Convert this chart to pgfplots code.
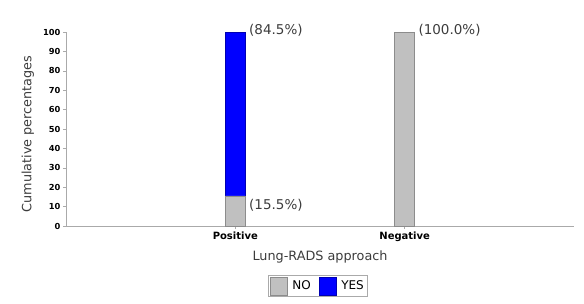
\documentclass[border=0pt]{standalone}
\usepackage{pgfplots}
\pgfplotsset{compat=1.18}
\usepackage{fontspec}
\setmainfont{DejaVu Sans}
\definecolor{barGray}{RGB}{192,192,192}
\definecolor{barGrayEdge}{RGB}{140,140,140}
\definecolor{axGray}{RGB}{170,170,170}
\definecolor{txtGray}{RGB}{60,60,60}
\begin{document}
\begin{tikzpicture}[x=1pt,y=1pt]
\useasboundingbox (0,0) rectangle (584,303);
\begin{axis}[
  at={(66pt,77pt)}, anchor=south west,
  scale only axis, width=508pt, height=194pt,
  ybar stacked, bar width=20pt,
  xmin=0, xmax=3, ymin=0, ymax=100,
  xtick={1,2}, xticklabels={Positive,Negative},
  ytick={0,10,...,100},
  axis x line*=bottom, axis y line*=left,
  axis line style={axGray, line width=0.8pt},
  x axis line style={-}, y axis line style={-},
  tick style={axGray, line width=0.6pt},
  major tick length=3pt,
  xtick align=outside, ytick align=outside,
  tick label style={font=\bfseries\fontsize{8.3}{9}\selectfont, black},
  /pgf/number format/assume math mode=true,
  yticklabel style={xshift=1pt},
  xticklabel style={font=\bfseries\fontsize{10}{11}\selectfont, yshift=1pt},
  xlabel={Lung-RADS approach},
  ylabel={Cumulative percentages},
  label style={font=\fontsize{12.8}{14}\selectfont, txtGray},
  xlabel style={at={(axis description cs:0.5,-0.16)}, anchor=center},
  ylabel style={at={(axis description cs:-0.075,0.474)}, anchor=center},
  legend style={at={(axis description cs:0.496,-0.309)}, anchor=center,
    legend columns=2, draw=axGray, font=\fontsize{12}{13}\selectfont,
    /tikz/every even column/.append style={column sep=6pt},
    /tikz/every odd column/.append style={column sep=3pt},
    inner sep=1.5pt},
  legend image code/.code={\draw[#1] (0pt,-9pt) rectangle (17pt,9pt);},
  clip=false,
]
\addplot[fill=barGray, draw=barGrayEdge] coordinates {(1,15.5) (2,100)};
\addplot[fill=blue, draw=blue!70!black] coordinates {(1,84.5) (2,0)};
\legend{NO,YES}
\node[anchor=west, font=\fontsize{13.5}{15}\selectfont, txtGray] at (axis cs:1.061,101) {(84.5\%)};
\node[anchor=west, font=\fontsize{13.5}{15}\selectfont, txtGray] at (axis cs:1.061,10.6) {(15.5\%)};
\node[anchor=west, font=\fontsize{13.5}{15}\selectfont, txtGray] at (axis cs:2.061,101) {(100.0\%)};
\end{axis}
\end{tikzpicture}
\end{document}
